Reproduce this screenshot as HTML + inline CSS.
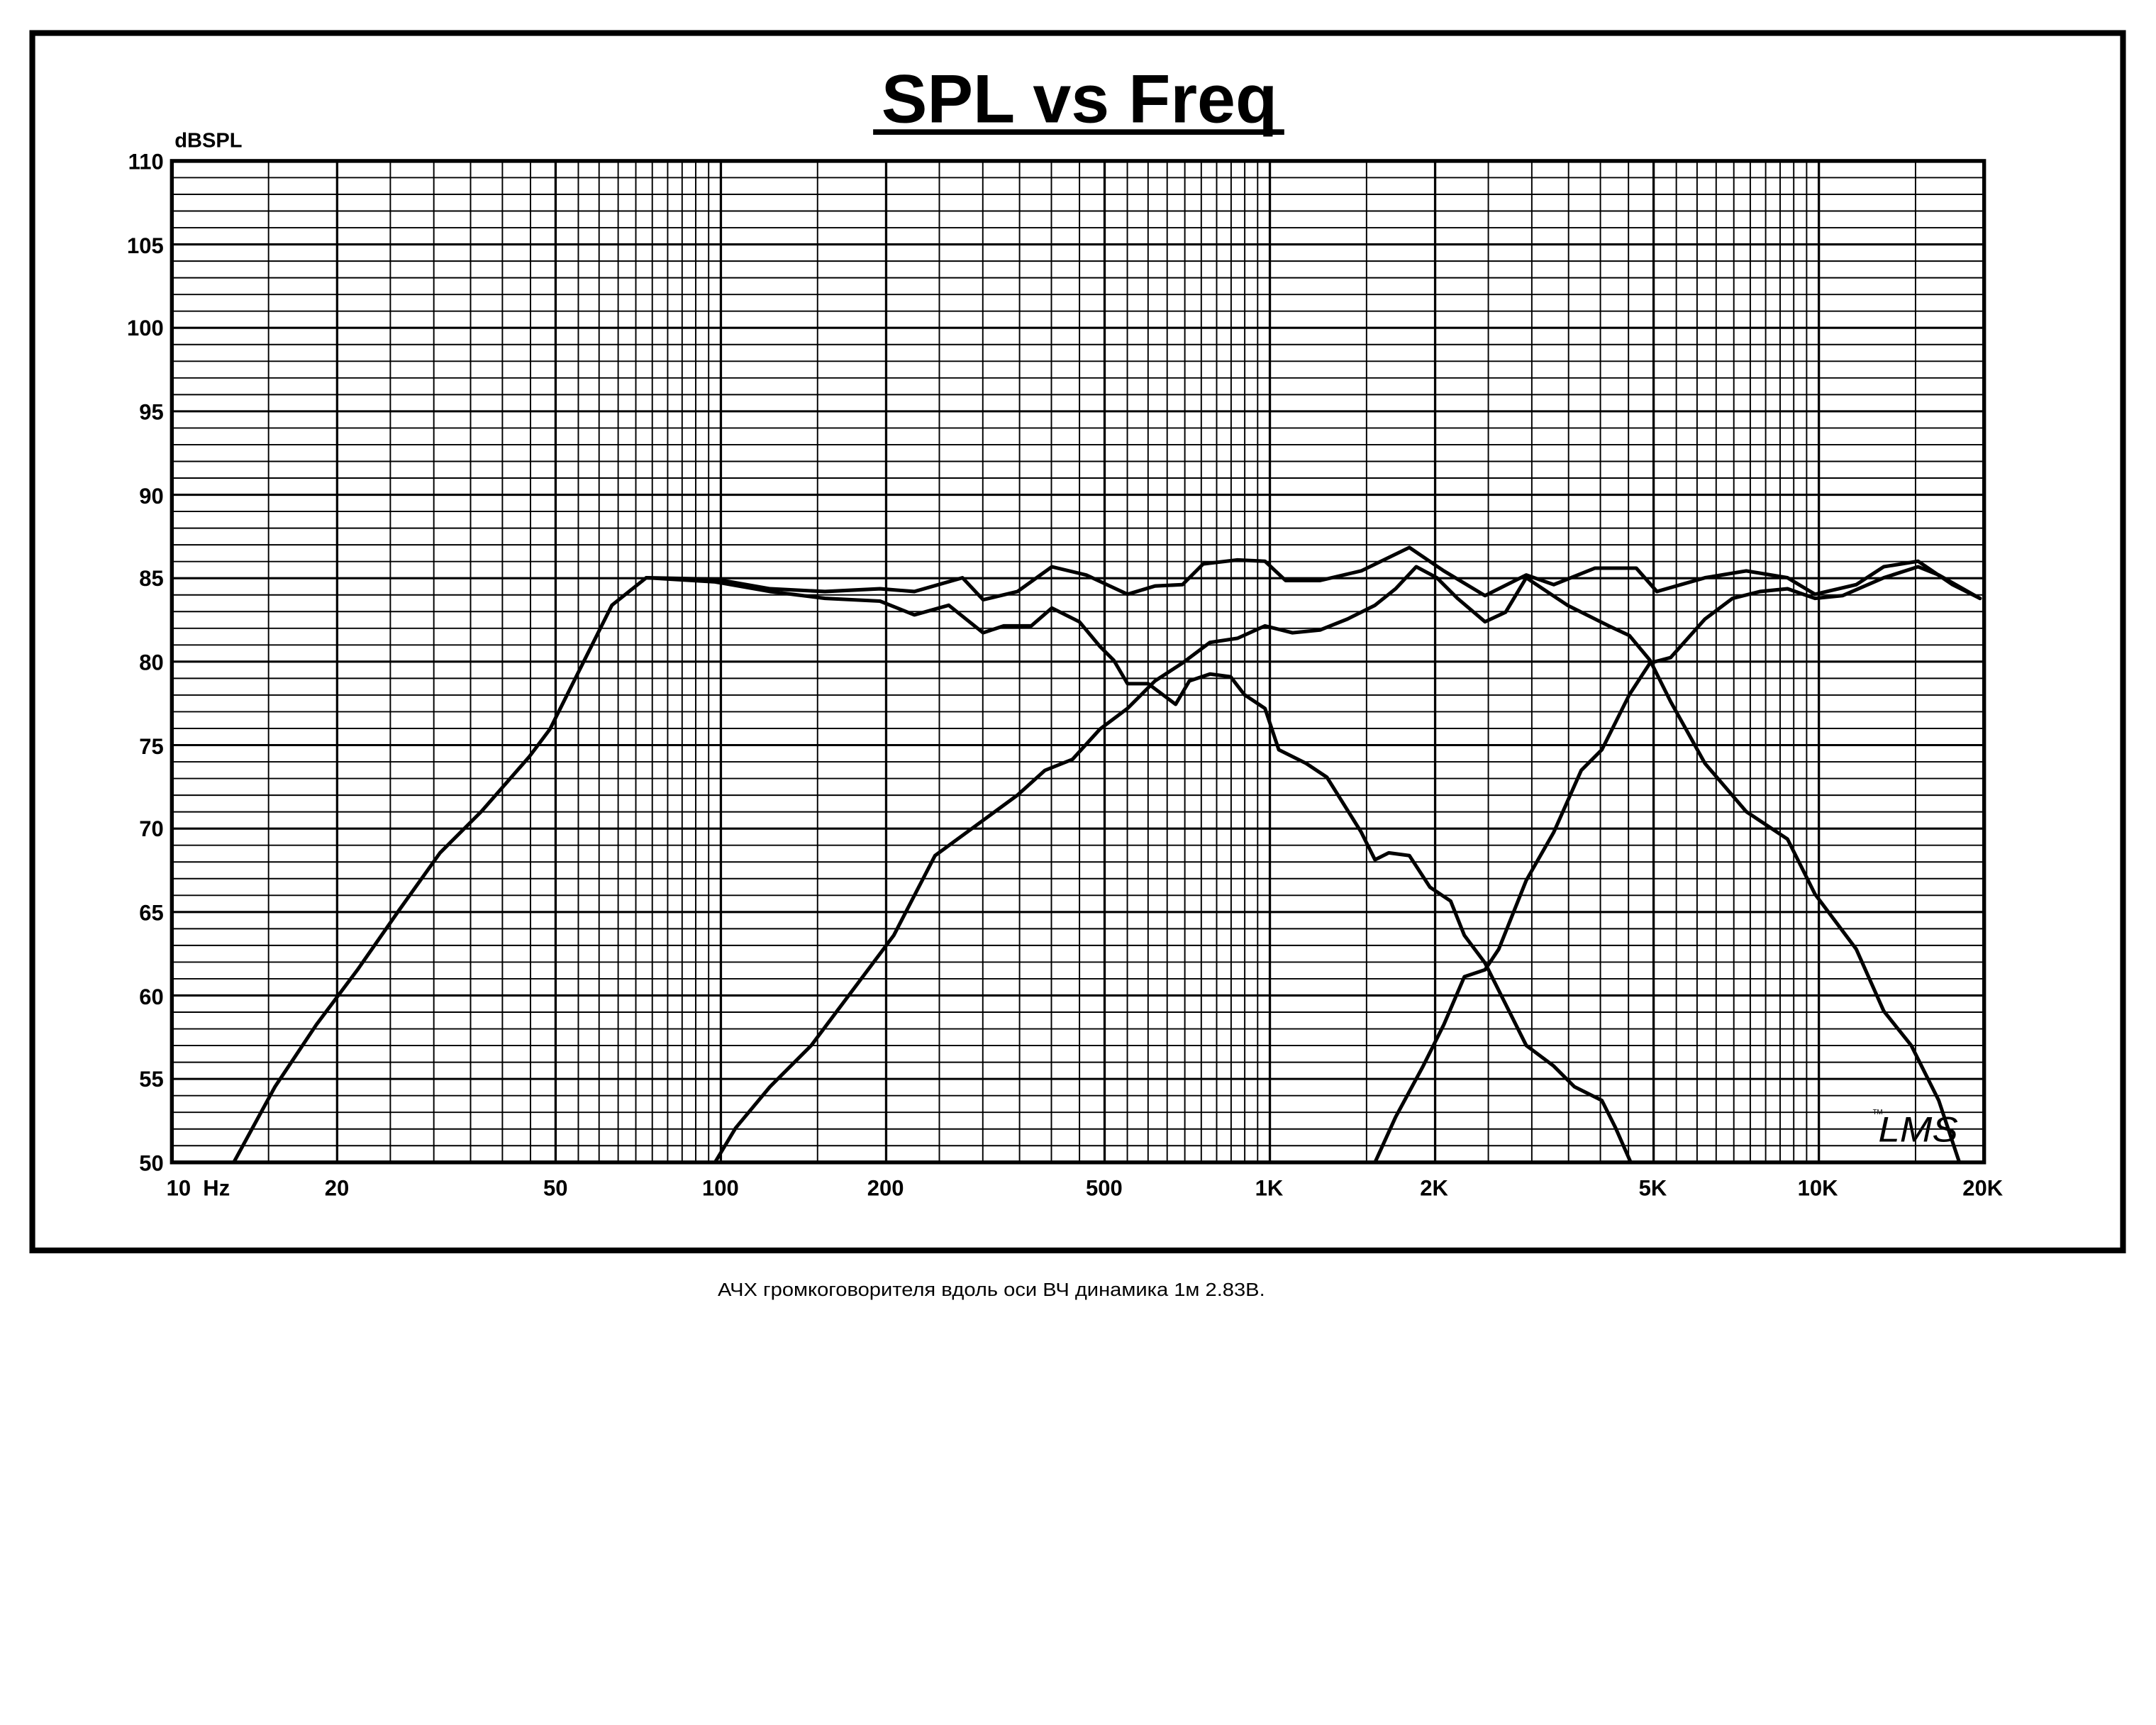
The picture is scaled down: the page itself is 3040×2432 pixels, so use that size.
<!DOCTYPE html>
<html><head><meta charset="utf-8">
<style>
html,body{margin:0;padding:0;background:#fff;}
svg{display:block;}
text{font-family:"Liberation Sans","DejaVu Sans",sans-serif;}
</style></head>
<body>
<svg id="s" xmlns="http://www.w3.org/2000/svg" width="3040" height="2432" viewBox="0 0 1568 1254" preserveAspectRatio="none">
<rect x="0" y="0" width="1568" height="1254" fill="#fff"/>
<g id="grid"></g>
<!-- outer frame -->
<rect x="23.5" y="24" width="1520.5" height="885" fill="none" stroke="#000" stroke-width="4.2"/>
<!-- title -->
<text x="785" y="89" font-size="50" font-weight="bold" text-anchor="middle">SPL vs Freq</text>
<rect x="635" y="94" width="299" height="4" fill="#000"/>
<text x="127" y="107" font-size="15" font-weight="bold">dBSPL</text>
<g font-size="16" font-weight="bold" text-anchor="end">
<text x="119" y="123">110</text>
<text x="119" y="184">105</text>
<text x="119" y="244">100</text>
<text x="119" y="305">95</text>
<text x="119" y="366">90</text>
<text x="119" y="426">85</text>
<text x="119" y="487">80</text>
<text x="119" y="548">75</text>
<text x="119" y="608">70</text>
<text x="119" y="669">65</text>
<text x="119" y="730">60</text>
<text x="119" y="790">55</text>
<text x="119" y="851">50</text>
</g>
<g font-size="16" font-weight="bold" text-anchor="middle">
<text x="121" y="869" text-anchor="start">10&#160;&#160;Hz</text>
<text x="245" y="869">20</text>
<text x="404" y="869">50</text>
<text x="524" y="869">100</text>
<text x="644" y="869">200</text>
<text x="803" y="869">500</text>
<text x="923" y="869">1K</text>
<text x="1043" y="869">2K</text>
<text x="1202" y="869">5K</text>
<text x="1322" y="869">10K</text>
<text x="1442" y="869">20K</text>
</g>
<text x="1362" y="810" font-size="5">TM</text>
<text x="1366" y="830" font-size="26" font-style="italic" textLength="58" lengthAdjust="spacingAndGlyphs">LMS</text>
<text x="522" y="942" font-size="13.5" textLength="398" lengthAdjust="spacingAndGlyphs">АЧХ громкоговорителя вдоль оси ВЧ динамика 1м 2.83В.</text>
<g id="curves" fill="none" stroke="#000" stroke-width="2.6" stroke-linejoin="round" stroke-linecap="round">
<polyline points="170,845 200,790 230,745 260,705 290,662 320,620 350,590 385,550 400,530 420,490 445,440 470,420 520,421 560,428 600,430 640,428 665,430 700,420 715,436 740,430 765,412 790,418 805,425 820,432 840,426 860,425 875,410 900,407 920,408 935,422 960,422 990,415 1025,398 1050,415 1080,433 1110,418 1130,425 1160,413 1190,413 1205,430 1240,420 1270,415 1300,420 1320,432 1350,425 1370,412 1395,408 1420,425 1440,435"/>
<polyline points="470,420 520,423 560,430 600,435 640,437 665,447 690,440 715,460 730,455 750,455 765,442 785,452 800,470 810,480 820,497 835,497 855,512 865,495 880,490 895,492 905,505 920,515 930,545 950,555 965,565 990,605 1000,625 1010,620 1025,622 1040,645 1055,655 1065,680 1080,700 1095,730 1110,760 1130,775 1145,790 1165,800 1175,820 1186,845"/>
<polyline points="520,845 535,820 560,790 590,760 620,720 650,680 680,622 710,600 740,578 760,560 780,552 800,530 820,515 840,495 860,482 880,467 900,464 920,455 940,460 960,458 980,450 1000,440 1015,428 1030,412 1045,420 1060,435 1080,452 1095,445 1110,420 1125,430 1140,440 1170,455 1185,462 1200,480 1215,510 1240,555 1270,590 1300,610 1320,650 1350,690 1370,735 1390,760 1410,800 1425,845"/>
<polyline points="1000,845 1015,812 1035,775 1050,745 1065,710 1080,705 1090,690 1110,640 1130,605 1150,560 1165,545 1185,505 1200,482 1215,478 1240,450 1260,435 1280,430 1300,428 1320,435 1340,433 1370,420 1395,412 1410,418 1440,435"/>
</g>
</svg>
<script>
(function(){
var ns="http://www.w3.org/2000/svg",g=document.getElementById("grid");
var L=125,R=1443,T=117,B=845,dec=(R-L)/Math.log10(2000);
function X(f){return L+dec*Math.log10(f/10);}
function Y(d){return T+(110-d)*(B-T)/60;}
function ln(x1,y1,x2,y2,w){var e=document.createElementNS(ns,"line");e.setAttribute("x1",x1);e.setAttribute("y1",y1);e.setAttribute("x2",x2);e.setAttribute("y2",y2);e.setAttribute("stroke","#000");e.setAttribute("stroke-width",w);g.appendChild(e);}
for(var d=50;d<=110;d++){ln(L,Y(d),R,Y(d),d%5==0?1.6:1.0);}
[10,100,1000,10000].forEach(function(m){for(var k=1;k<10;k+=0.5){var f=m*k;if(f>20000)break;var maj=(k==1||k==2||k==5);ln(X(f),T,X(f),B,maj?1.7:1.0);}});
var r=document.createElementNS(ns,"rect");r.setAttribute("x",L);r.setAttribute("y",T);r.setAttribute("width",R-L);r.setAttribute("height",B-T);r.setAttribute("fill","none");r.setAttribute("stroke","#000");r.setAttribute("stroke-width","2.8");g.appendChild(r);
})();
</script>
</body></html>
